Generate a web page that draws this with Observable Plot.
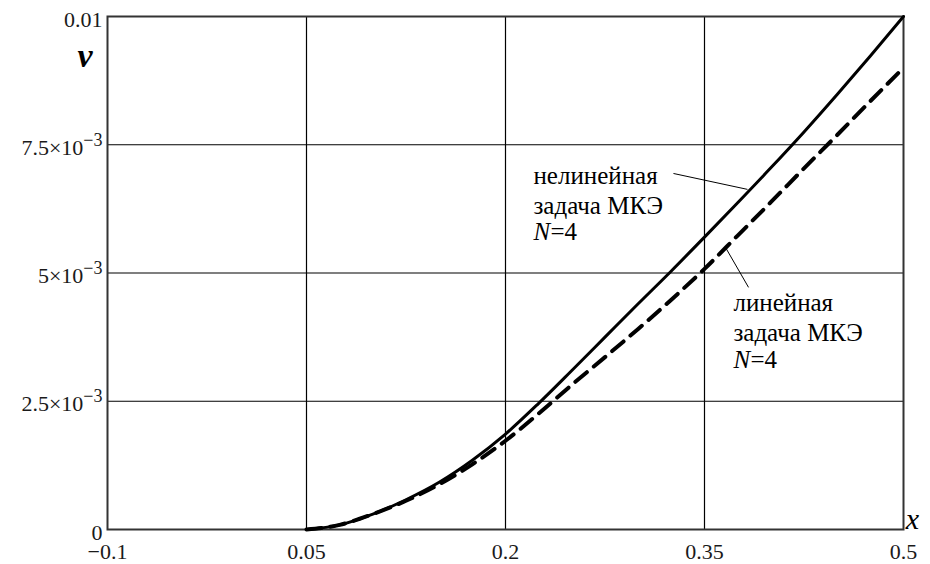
<!DOCTYPE html>
<html>
<head>
<meta charset="utf-8">
<script src="https://cdn.jsdelivr.net/npm/d3@7"></script>
<script src="https://cdn.jsdelivr.net/npm/@observablehq/plot@0.6"></script>
<style>
  html, body { margin: 0; padding: 0; background: #fff; }
  #chart svg { display: block; }
</style>
</head>
<body>
<div id="chart"></div>
<script>
// ---- data ----
const xs = [0.05, 0.075, 0.1, 0.125, 0.15, 0.175, 0.2, 0.225, 0.25, 0.275, 0.3, 0.325, 0.35, 0.375, 0.4, 0.425, 0.45, 0.475, 0.5];
const vNonlinear = [0, 0.00009, 0.00030, 0.00058, 0.00092, 0.00135, 0.00186, 0.00246, 0.00310, 0.00375, 0.00440, 0.00504, 0.00570, 0.00637, 0.00705, 0.00775, 0.00848, 0.00923, 0.01000];
const vLinear    = [0, 0.00009, 0.00030, 0.00056, 0.00088, 0.00127, 0.00173, 0.00226, 0.00282, 0.00336, 0.00391, 0.00448, 0.00508, 0.00573, 0.00638, 0.00704, 0.00769, 0.00835, 0.00900];

const xTicks = [-0.1, 0.05, 0.2, 0.35, 0.5];
const xTickLabels = ["−0.1", "0.05", "0.2", "0.35", "0.5"];
const yTicks = [0, 0.0025, 0.005, 0.0075, 0.01];
const yTickLabels = ["0", "2.5×10^−3", "5×10^−3", "7.5×10^−3", "0.01"];

// annotations (data coordinates)
const annNonlinear = {x: 0.2211, y: 0.00715, lines: "нелинейная\nзадача МКЭ", n: "N", rest: "=4"};
const annLinear    = {x: 0.3718, y: 0.00467, lines: "линейная\nзадача МКЭ", n: "N", rest: "=4"};
const leaders = [
  {x1: 0.3266, y1: 0.00694, x2: 0.3824, y2: 0.00663},
  {x1: 0.3658, y1: 0.00550, x2: 0.3832, y2: 0.00472}
];
const yAxisLabel = {x: -0.1170, y: 0.00922, text: "v"};
const xAxisLabel = {x: 0.5068, y: 0.00020, text: "x"};

// ---- tables ----
const solid = xs.map((x, i) => ({x, v: vNonlinear[i]}));
const dashed = xs.map((x, i) => ({x, v: vLinear[i]}));
const xTickData = xTicks.map((x, i) => ({x, label: xTickLabels[i]}));
const yTickData = yTicks.map((y, i) => ({y, label: yTickLabels[i]}));
const gridX = xTicks.slice(1, -1);
const gridY = yTicks.slice(1, -1);

const serif = "Liberation Serif";
const anns = [annNonlinear, annLinear];

const chart = Plot.plot({
  width: 930,
  height: 564,
  marginLeft: 107,
  marginRight: 27,
  marginTop: 16,
  marginBottom: 35,
  x: {domain: [-0.1, 0.5], axis: null},
  y: {domain: [0, 0.01], axis: null},
  style: {background: "#fff", overflow: "visible"},
  marks: [
    Plot.ruleX(gridX, {stroke: "#000", strokeWidth: 1.2}),
    Plot.ruleY(gridY, {stroke: "#000", strokeWidth: 1.2}),
    Plot.frame({stroke: "#333", strokeWidth: 2}),
    Plot.line(dashed, {x: "x", y: "v", curve: "monotone-x", stroke: "#000", strokeWidth: 4, strokeDasharray: "15,9"}),
    Plot.line(solid, {x: "x", y: "v", curve: "monotone-x", stroke: "#000", strokeWidth: 3}),
    Plot.link(leaders, {x1: "x1", y1: "y1", x2: "x2", y2: "y2", stroke: "#000", strokeWidth: 1}),
    // y tick labels
    Plot.text(yTickData, {x: () => -0.1, y: "y", text: "label", textAnchor: "end", dx: -5, dy: 3, fontSize: 22, fontFamily: serif, fill: "#1a1a1a"}),
    // x tick labels
    Plot.text(xTickData, {x: "x", y: () => 0, text: "label", dy: 22, fontSize: 22, fontFamily: serif, fill: "#1a1a1a"}),
    // axis labels
    Plot.text([yAxisLabel], {x: "x", y: "y", text: "text", fontSize: 34, fontFamily: serif, fontStyle: "italic", fontWeight: "bold", fill: "#000"}),
    Plot.text([xAxisLabel], {x: "x", y: "y", text: "text", fontSize: 30, fontFamily: serif, fontStyle: "italic", fill: "#000"}),
    // annotations
    Plot.text(anns, {x: "x", y: "y", text: "lines", textAnchor: "start", lineAnchor: "top", lineHeight: 1.2, fontSize: 25, fontFamily: serif, fill: "#000"}),
    Plot.text(anns, {x: "x", y: "y", text: "n", textAnchor: "start", lineAnchor: "top", dy: 60, fontSize: 25, fontFamily: serif, fontStyle: "italic", fill: "#000"}),
    Plot.text(anns, {x: "x", y: "y", text: "rest", textAnchor: "start", lineAnchor: "top", dy: 60, dx: 17, fontSize: 25, fontFamily: serif, fill: "#000"})
  ]
});

// superscript exponents for the y tick labels
d3.select(chart).selectAll("text").each(function () {
  const t = this.textContent;
  if (t.includes("^") && this.children.length === 0) {
    const [base, exp] = t.split("^");
    const sel = d3.select(this);
    sel.text(base);
    sel.append("tspan").attr("dy", "-0.5em").attr("font-size", "0.82em").text(exp);
  }
});

document.getElementById("chart").appendChild(chart);
</script>
</body>
</html>
